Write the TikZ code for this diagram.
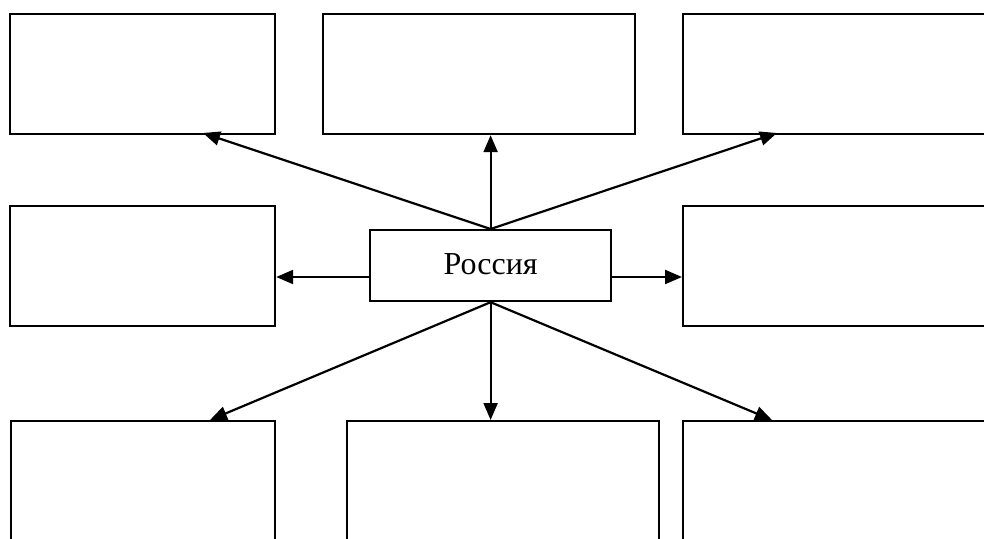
\documentclass[tikz,border=0pt]{standalone}
\usepackage{fontspec}
\setmainfont{Liberation Serif}
\usetikzlibrary{arrows.meta}
\begin{document}
\begin{tikzpicture}[x=1pt,y=-1pt,
  box/.style={draw=black, line width=2.2pt, fill=white, anchor=north west, inner sep=0pt},
  arr/.style={line width=2.2pt, -{Triangle[length=17pt,width=14pt]}}]
\useasboundingbox (0,0) rectangle (984,538);
\clip (0,0) rectangle (984,538);
\fill[white] (0,0) rectangle (984,538);
% boxes
\node[box, minimum width=265pt, minimum height=120pt] (tl) at (9,13) {};
\node[box, minimum width=312pt, minimum height=120pt] (tm) at (322,13) {};
\node[box, minimum width=330pt, minimum height=120pt] (tr) at (682,13) {};
\node[box, minimum width=265pt, minimum height=120pt] (ml) at (9,205) {};
\node[box, minimum width=330pt, minimum height=120pt] (mr) at (682,205) {};
\node[box, minimum width=264pt, minimum height=140pt] (bl) at (10,420) {};
\node[box, minimum width=312pt, minimum height=140pt] (bm) at (346,420) {};
\node[box, minimum width=330pt, minimum height=140pt] (br) at (682,420) {};
\node[box, minimum width=241pt, minimum height=71pt] (ru) at (369,229) {};
\node[font=\fontsize{32}{38}\selectfont, inner sep=0pt] (rutext) at ([yshift=1pt]ru.center) {Россия};
% arrow end points
\coordinate (rl) at (369,277);
\coordinate (rr) at (610,277);
\coordinate (etl) at (203,133);
\coordinate (etr) at (777,133);
\coordinate (ebl) at (210,420);
\coordinate (ebr) at (772,420);
% arrows
\draw[arr] (ru.north) -- (etl);
\draw[arr] (ru.north) -- (ru.north |- tm.south);
\draw[arr] (ru.north) -- (etr);
\draw[arr] (rl) -- (rl -| ml.east);
\draw[arr] (rr) -- (rr -| mr.west);
\draw[arr] (ru.south) -- (ebl);
\draw[arr] (ru.south) -- (ru.south |- bm.north);
\draw[arr] (ru.south) -- (ebr);
\end{tikzpicture}
\end{document}
